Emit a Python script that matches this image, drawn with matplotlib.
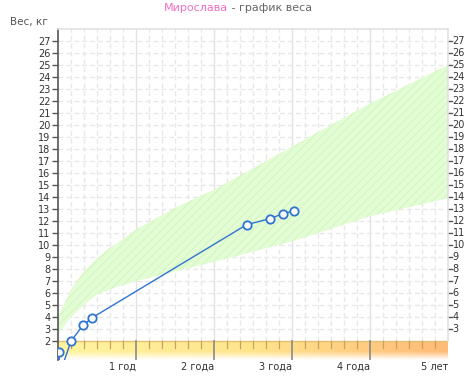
import numpy as np
import matplotlib
matplotlib.use("Agg")
import matplotlib.pyplot as plt
from matplotlib.colors import to_rgb

plt.rcParams['font.family'] = ['DejaVu Sans']
plt.rcParams['hatch.linewidth'] = 0.6

# ---- данные ----
name = "Мирослава"
title_rest = " - график веса"
ylabel = "Вес, кг"
year_labels = ["1 год", "2 года", "3 года", "4 года", "5 лет"]

# вес ребёнка (возраст в годах, вес в кг)
child_age = [0.01, 0.03, 0.167, 0.32, 0.44, 2.42, 2.72, 2.88, 3.03]
child_weight = [1.05, -0.6, 2.0, 3.3, 3.95, 11.7, 12.2, 12.6, 12.85]

# коридор нормы
norm_age = [0, 0.167, 0.33, 0.5, 0.67, 0.75, 1, 1.5, 2, 3, 4, 5]
norm_high = [4.0, 6.3, 7.8, 8.9, 9.8, 10.1, 11.3, 13.1, 14.6, 18.2, 21.8, 25.0]
norm_low = [2.6, 4.0, 5.0, 5.9, 6.3, 6.5, 7.0, 7.8, 8.6, 10.3, 12.4, 13.9]

y_min, y_max = 0.42, 28.0
x_max = 5

fig = plt.figure(figsize=(4.76, 3.82), dpi=100)
W, H = 476, 382
ax = fig.add_axes([58 / W, (H - 360) / H, (448 - 58) / W, (360 - 29) / H])
ax.set_xlim(0, x_max)
ax.set_ylim(y_min, y_max)

# сетка
grid_c = '#e8e8e8'
for k in range(3, 28):
    ax.axhline(k, color=grid_c, lw=1, dashes=(3.5, 2.2), zorder=0)
for m in range(1, x_max * 6):
    xx = m / 6
    if m % 6 == 0:
        ax.plot([xx, xx], [2, y_max], color='#e2e2e2', lw=1, zorder=0)
    else:
        ax.plot([xx, xx], [2, y_max], color=grid_c, lw=1, dashes=(3.5, 2.2), zorder=0)

# коридор нормы
ax.fill_between(norm_age, norm_low, norm_high, facecolor='#e2fcd4',
                edgecolor='#d4f3bf', hatch='////', lw=0, zorder=1)

# нижняя цветная полоса
c_left = np.array(to_rgb('#fff4a0'))
c_mid = np.array(to_rgb('#ffe48c'))
c_right = np.array(to_rgb('#ffbb78'))
nx, ny = 200, 40
tx = np.linspace(0, 1, nx)
cols = np.where(tx[:, None] < 0.5,
                c_left + (c_mid - c_left) * (tx[:, None] / 0.5),
                c_mid + (c_right - c_mid) * ((tx[:, None] - 0.5) / 0.5))
ty = np.linspace(0, 1, ny)[:, None, None]
fade = np.clip(ty * 2.2, 0, 1)
img = 1 - (1 - cols[None, :, :]) * fade
ax.imshow(img, extent=[0, x_max, y_min, 2.0], origin='lower', aspect='auto',
          zorder=1, interpolation='bilinear')
ax.axhline(2.0, color='#e2c070', lw=1, zorder=2)
for m in range(1, x_max * 6):
    xx = m / 6
    if m % 6 == 0:
        ax.plot([xx, xx], [y_min, 2], color='#8a8a8a', lw=1.2, zorder=2)
    else:
        ax.plot([xx, xx], [1.45, 2], color='#c8a060', lw=0.9, zorder=2)

# линия ребёнка
ax.plot(child_age, child_weight, color='#2f74d0', lw=1, marker='o', ms=6,
        mfc='white', mec='#2f74d0', mew=1.3, zorder=5)

# оси
for s in ['top', 'right', 'bottom']:
    ax.spines[s].set_visible(False)
ax.plot([0, x_max], [y_max, y_max], color='#e2e2e2', lw=1.2, zorder=3, clip_on=False)
ax.plot([x_max, x_max], [2, y_max], color='#e2e2e2', lw=1.2, zorder=3, clip_on=False)
ax.spines['left'].set_color('#555555')
ax.spines['left'].set_linewidth(1.2)

ax.set_yticks(range(2, 28))
ax.tick_params(axis='y', left=True, right=False, labelsize=7, colors='#555555',
               length=4, width=1, pad=1.5, labelcolor='#333333')
ax.set_xticks([])

for k in range(3, 28):
    ax.plot([x_max, x_max + 0.045], [k, k], color='#555555', lw=1, clip_on=False)
    ax.text(x_max + 0.06, k, str(k), fontsize=7, color='#333333',
            va='center', ha='left', clip_on=False)

for i, lab in enumerate(year_labels):
    ax.text(i + 1, y_min - 0.15, lab, fontsize=7, color='#333333',
            ha='right', va='top')

fig.text(10 / W, 1 - 22 / H, ylabel, fontsize=7.5, color='#555555', va='center')
fig.text(228 / W, 1 - 8 / H, name, fontsize=8, color='#f070c0', ha='right', va='center')
fig.text(228 / W, 1 - 8 / H, title_rest, fontsize=8, color='#666666', ha='left', va='center')

fig.savefig('out.png', dpi=100)
